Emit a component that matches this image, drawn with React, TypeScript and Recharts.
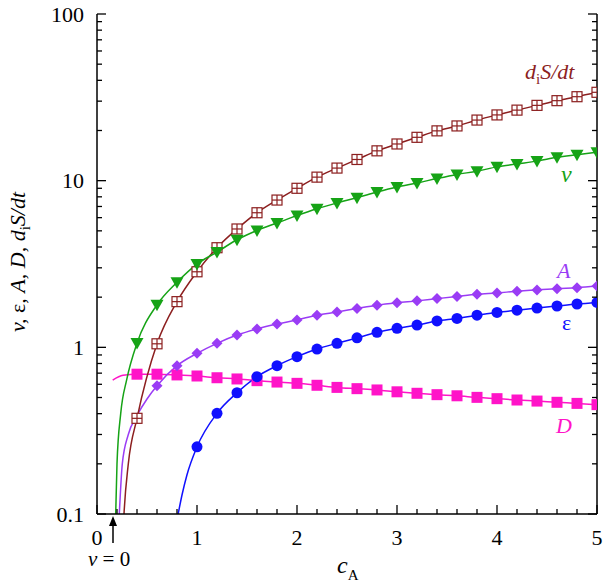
import React from 'react'
import { ComposedChart, Line, XAxis, YAxis } from 'recharts'

// Log-scale plot of v, ε, A, D and d_iS/dt against c_A.
// Marker values sit on the grid cA; each curve also has a short lead-in
// where it climbs up out of the 0.1 floor.

const cA = [0.4, 0.6, 0.8, 1.0, 1.2, 1.4, 1.6, 1.8, 2.0, 2.2, 2.4, 2.6, 2.8, 3.0, 3.2, 3.4, 3.6, 3.8, 4.0, 4.2, 4.4, 4.6, 4.8, 5.0]

const vValues = [1.06, 1.8, 2.46, 3.16, 3.73, 4.42, 5.03, 5.57, 6.18, 6.79, 7.35, 7.9, 8.55, 9.17, 9.68, 10.3, 10.9, 11.4, 12.1, 12.6, 13.1, 13.8, 14.3, 14.8]
const dsdtValues = [0.375, 1.05, 1.88, 2.84, 3.96, 5.13, 6.42, 7.65, 9.0, 10.5, 11.9, 13.4, 15.1, 16.6, 18.2, 19.9, 21.3, 23.1, 24.8, 26.5, 28.3, 30.2, 31.9, 33.9]
// A starts at cA = 0.6, ε at cA = 1.0
const aValues = [0.588, 0.776, 0.92, 1.057, 1.185, 1.29, 1.38, 1.46, 1.56, 1.63, 1.71, 1.79, 1.85, 1.9, 1.96, 2.02, 2.08, 2.12, 2.17, 2.21, 2.25, 2.28, 2.33]
const epsValues = [0.253, 0.402, 0.534, 0.667, 0.776, 0.879, 0.977, 1.057, 1.14, 1.23, 1.3, 1.36, 1.44, 1.49, 1.56, 1.62, 1.67, 1.72, 1.77, 1.82, 1.86]
const dValues = [0.69, 0.69, 0.683, 0.673, 0.657, 0.646, 0.631, 0.619, 0.608, 0.592, 0.575, 0.565, 0.555, 0.541, 0.53, 0.52, 0.512, 0.501, 0.492, 0.483, 0.476, 0.468, 0.461, 0.453]

// curve lead-ins (no markers)
const vLeadX = [0.183, 0.187, 0.2, 0.237, 0.297]
const vLeadY = [0.085, 0.1, 0.2, 0.4, 0.64]
const dsdtLeadX = [0.262, 0.27, 0.313]
const dsdtLeadY = [0.08, 0.1, 0.2]
const aLeadX = [0.215, 0.223, 0.253, 0.313, 0.4, 0.5]
const aLeadY = [0.08, 0.1, 0.2, 0.3, 0.39, 0.49]
const epsLeadX = [0.8, 0.85, 0.9]
const epsLeadY = [0.092, 0.13, 0.172]
const dLeadX = [0.157, 0.26]
const dLeadY = [0.636, 0.68]

const xTicks = [0, 0.2, 0.4, 0.6, 0.8, 1, 1.2, 1.4, 1.6, 1.8, 2, 2.2, 2.4, 2.6, 2.8, 3, 3.2, 3.4, 3.6, 3.8, 4, 4.2, 4.4, 4.6, 4.8, 5]
const xLabels = [0, 1, 2, 3, 4, 5]
const yTicks = [0.1, 0.2, 0.3, 0.4, 0.5, 0.6, 0.7, 0.8, 0.9, 1, 2, 3, 4, 5, 6, 7, 8, 9, 10, 20, 30, 40, 50, 60, 70, 80, 90, 100]
const yLabels = [0.1, 1, 10, 100]

const GREEN = '#16a316'
const BROWN = '#8c1f1f'
const PURPLE = '#9a3cf5'
const BLUE = '#1010ff'
const MAGENTA = '#ff14c8'
const FONT = "'Liberation Serif', 'Times New Roman', Times, serif"
const serif = { fontFamily: FONT }

type Pt = { x: number; y: number; m: boolean }

function build(leadX: number[], leadY: number[], marks: number[], offset: number): Pt[] {
  const lead = leadX.map((x, i) => ({ x, y: leadY[i], m: false }))
  const rest = marks.map((y, i) => ({ x: cA[offset + i], y, m: true }))
  return [...lead, ...rest]
}

const vData = build(vLeadX, vLeadY, vValues, 0)
const dsdtData = build(dsdtLeadX, dsdtLeadY, dsdtValues, 0)
const aData = build(aLeadX, aLeadY, aValues, 1)
const epsData = build(epsLeadX, epsLeadY, epsValues, 3)
const dData = build(dLeadX, dLeadY, dValues, 0)

const makeDot = (shape: (cx: number, cy: number) => React.ReactNode) => (props: any) => {
  const { cx, cy, payload, index } = props
  if (!payload || !payload.m || cx == null || cy == null) return <g key={index} />
  return <g key={index}>{shape(cx, cy)}</g>
}

const triangleDot = makeDot((cx, cy) => (
  <polygon points={`${cx - 6.5},${cy - 5} ${cx + 6.5},${cy - 5} ${cx},${cy + 6.5}`} fill={GREEN} />
))
const crossSquareDot = makeDot((cx, cy) => (
  <g stroke={BROWN} strokeWidth={1.2} fill="#fff">
    <rect x={cx - 5} y={cy - 5} width={10} height={10} />
    <line x1={cx} x2={cx} y1={cy - 5} y2={cy + 5} />
    <line x1={cx - 5} x2={cx + 5} y1={cy} y2={cy} />
  </g>
))
const diamondDot = makeDot((cx, cy) => (
  <polygon points={`${cx},${cy - 5.5} ${cx + 5.5},${cy} ${cx},${cy + 5.5} ${cx - 5.5},${cy}`} fill={PURPLE} />
))
const circleDot = makeDot((cx, cy) => <circle cx={cx} cy={cy} r={5.5} fill={BLUE} />)
const squareDot = makeDot((cx, cy) => <rect x={cx - 5.5} y={cy - 5.5} width={11} height={11} fill={MAGENTA} />)

const isInt = (v: number) => Math.abs(v - Math.round(v)) < 1e-6
const isDecade = (v: number) => isInt(Math.log10(v))

function BottomTick(props: any) {
  const { x, y, payload } = props
  const v = payload.value
  const major = xLabels.some((l) => Math.abs(l - v) < 1e-6)
  return (
    <g>
      <line x1={x} x2={x} y1={y} y2={y - (major ? 9 : 5)} stroke="#000" strokeWidth={1.3} />
      {major && (
        <text x={x} y={y + 31} textAnchor="middle" fontSize={22} style={serif} fill="#000">
          {Math.round(v)}
        </text>
      )}
    </g>
  )
}

function TopTick(props: any) {
  const { x, y, payload } = props
  const major = isInt(payload.value)
  return <line x1={x} x2={x} y1={y} y2={y + (major ? 9 : 5)} stroke="#000" strokeWidth={1.3} />
}

function LeftTick(props: any) {
  const { x, y, payload } = props
  const v = payload.value
  const major = isDecade(v)
  return (
    <g>
      <line x1={x} x2={x + (major ? 9 : 5)} y1={y} y2={y} stroke="#000" strokeWidth={1.3} />
      {major && yLabels.includes(v) && (
        <text x={x - 13} y={y + 7.5} textAnchor="end" fontSize={22} style={serif} fill="#000">
          {String(v)}
        </text>
      )}
    </g>
  )
}

function RightTick(props: any) {
  const { x, y, payload } = props
  const major = isDecade(payload.value)
  return <line x1={x} x2={x - (major ? 9 : 5)} y1={y} y2={y} stroke="#000" strokeWidth={1.3} />
}

const axisLine = { stroke: '#000', strokeWidth: 1.5 }

export default function App() {
  return (
    <div style={{ position: 'fixed', left: 0, top: 0, width: 603, height: 587, background: '#fff', fontFamily: FONT }}>
      <ComposedChart width={603} height={587} margin={{ top: 14, right: 0, bottom: 0, left: 0 }}>
        <XAxis
          dataKey="x"
          type="number"
          domain={[0, 5]}
          ticks={xTicks}
          interval={0}
          tick={<BottomTick />}
          tickSize={0}
          tickMargin={0}
          tickLine={false}
          axisLine={axisLine}
          height={73}
          allowDataOverflow
        />
        <XAxis
          xAxisId="top"
          orientation="top"
          type="number"
          domain={[0, 5]}
          ticks={xTicks}
          interval={0}
          tick={<TopTick />}
          tickSize={0}
          tickMargin={0}
          tickLine={false}
          axisLine={axisLine}
          height={0}
          allowDataOverflow
        />
        <YAxis
          type="number"
          scale="log"
          domain={[0.1, 100]}
          ticks={yTicks}
          interval={0}
          tick={<LeftTick />}
          tickSize={0}
          tickMargin={0}
          tickLine={false}
          axisLine={axisLine}
          width={97}
          allowDataOverflow
        />
        <YAxis
          yAxisId="right"
          orientation="right"
          type="number"
          scale="log"
          domain={[0.1, 100]}
          ticks={yTicks}
          interval={0}
          tick={<RightTick />}
          tickSize={0}
          tickMargin={0}
          tickLine={false}
          axisLine={axisLine}
          width={6}
          allowDataOverflow
        />
        <Line data={dData} dataKey="y" type="monotone" stroke={MAGENTA} strokeWidth={1.5} dot={squareDot} activeDot={false} isAnimationActive={false} />
        <Line data={epsData} dataKey="y" type="monotone" stroke={BLUE} strokeWidth={1.5} dot={circleDot} activeDot={false} isAnimationActive={false} />
        <Line data={aData} dataKey="y" type="monotone" stroke={PURPLE} strokeWidth={1.5} dot={diamondDot} activeDot={false} isAnimationActive={false} />
        <Line data={dsdtData} dataKey="y" type="monotone" stroke={BROWN} strokeWidth={1.5} dot={crossSquareDot} activeDot={false} isAnimationActive={false} />
        <Line data={vData} dataKey="y" type="monotone" stroke={GREEN} strokeWidth={1.5} dot={triangleDot} activeDot={false} isAnimationActive={false} />
      </ComposedChart>

      {/* labels and the v = 0 arrow */}
      <svg width={603} height={587} style={{ position: 'absolute', left: 0, top: 0, pointerEvents: 'none', fontFamily: FONT }}>
        <text x={525} y={79} fontSize={22} fill={BROWN} fontStyle="italic">
          d<tspan fontSize={15} fontStyle="normal" dy={5}>i</tspan>
          <tspan dy={-5}>S/dt</tspan>
        </text>
        <text x={561} y={182} fontSize={24} fill={GREEN} fontStyle="italic">v</text>
        <text x={557} y={278} fontSize={22} fill={PURPLE} fontStyle="italic">A</text>
        <text x={562} y={330} fontSize={22} fill={BLUE}>ε</text>
        <text x={556} y={433} fontSize={22} fill={MAGENTA} fontStyle="italic">D</text>

        <text x={337} y={573} fontSize={24} fill="#000" fontStyle="italic">
          c<tspan fontSize={15} fontStyle="normal" dy={7}>A</tspan>
        </text>

        <text transform="translate(25,262) rotate(-90)" textAnchor="middle" fontSize={22} fill="#000" fontStyle="italic">
          v, <tspan fontStyle="normal">ε</tspan>, A, D, d<tspan fontSize={15} fontStyle="normal" dy={5}>i</tspan>
          <tspan dy={-5}>S/dt</tspan>
        </text>

        <line x1={113} x2={113} y1={543} y2={522} stroke="#000" strokeWidth={1.5} />
        <polygon points="113,516 109,526 117,526" fill="#000" />
        <text x={88} y={566} fontSize={21} fill="#000">
          <tspan fontStyle="italic">v</tspan> = 0
        </text>
      </svg>
    </div>
  )
}
